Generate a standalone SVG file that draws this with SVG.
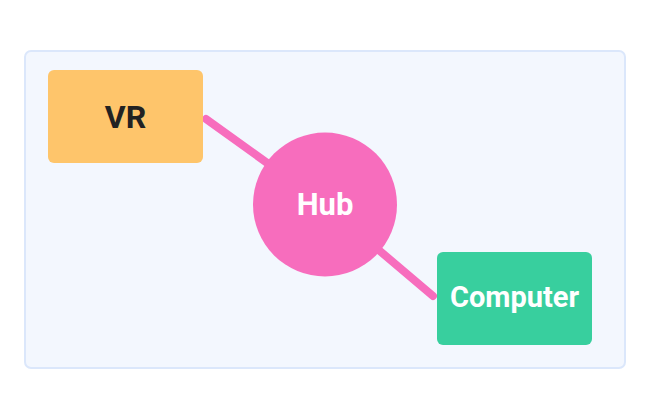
<svg xmlns="http://www.w3.org/2000/svg" width="650" height="420" viewBox="0 0 650 420">
<style>
.lbl{font-family:Roboto,"Liberation Sans",sans-serif;font-weight:bold;text-anchor:middle;dominant-baseline:central}
.edge{stroke:#f76dbd;stroke-width:8;stroke-linecap:round;fill:none}
</style>
<rect width="650" height="420" fill="#ffffff"/>
<rect x="25" y="51" width="600" height="317" rx="6" fill="#f3f7fe" stroke="#dbe7fb" stroke-width="2"/>
<g id="connectors">
<line class="edge" x1="206" y1="119" x2="325" y2="204.5"/>
<line class="edge" x1="325" y1="204.5" x2="433" y2="296"/>
</g>
<g id="vr">
<rect x="48" y="70" width="155" height="93" rx="6" fill="#fec56b"/>
<text class="lbl" x="125.5" y="117" font-size="32" fill="#222222">VR</text>
</g>
<g id="hub">
<circle cx="325" cy="204.5" r="72" fill="#f76dbd"/>
<text class="lbl" x="325" y="204" font-size="31" fill="#ffffff">Hub</text>
</g>
<g id="computer">
<rect x="437" y="252" width="155" height="93" rx="6" fill="#38cf9e"/>
<text class="lbl" x="514.5" y="297" font-size="29" fill="#ffffff">Computer</text>
</g>
</svg>
